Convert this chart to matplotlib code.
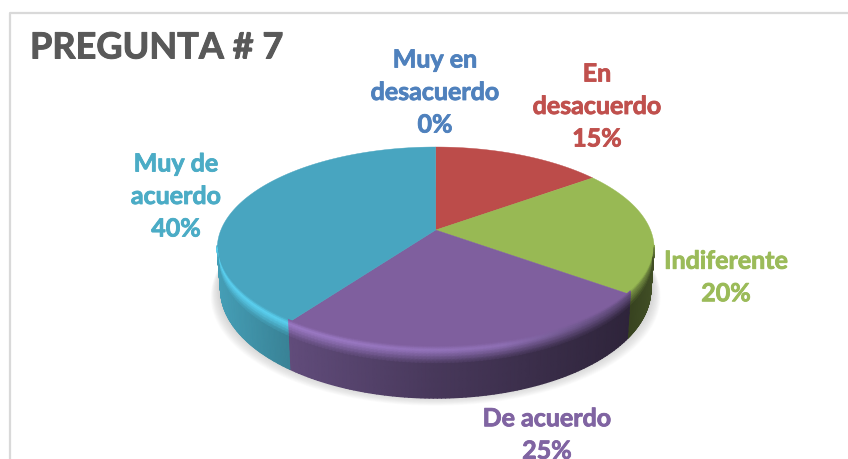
import matplotlib
matplotlib.use('Agg')
import matplotlib.pyplot as plt
import matplotlib.patheffects as pe
import numpy as np

title = 'PREGUNTA # 7'
labels = ['Muy en\ndesacuerdo', 'En\ndesacuerdo', 'Indiferente', 'De acuerdo', 'Muy de\nacuerdo']
values = [0, 15, 20, 25, 40]
colors = ['#4F81BD', '#C0504D', '#9BBB59', '#8064A2', '#4BACC6']
top_colors = ['#4F81BD', '#BC4C4A', '#98B954', '#7F5F9E', '#48A5C0']
label_x = [435, 597, 726, 547, 176]
label_y = [93.5, 107.5, 278.5, 436, 197.5]

# pie geometry in image pixels, perspective fitted on the slice corners
cx, cy = 435.7, 231
a, b, k = 214.8, 98.1, 0.182
depth = 39.5


def project(theta, r=1.0):
    # theta in radians, clockwise from the top
    u = r * np.sin(theta)
    v = r * np.cos(theta)
    w = 1 + k * v
    return cx + a * u / w, cy - b * v / w, w


fig = plt.figure(figsize=(8.48, 4.6), dpi=100)
ax = fig.add_axes([0, 0, 1, 1])
ax.set_xlim(0, 848)
ax.set_ylim(460, 0)
ax.axis('off')

# chart frame
ax.plot([10, 10, 848], [460, 14, 14], color='#D9D9D9', lw=1.6, zorder=1)

# soft shadow under the pie
circle = np.linspace(0, 2 * np.pi, 240)
for g in range(14, 0, -1):
    x, y, w = project(circle)
    x = cx + (x - cx) * (0.985 + g * 0.0032)
    y = y + depth / w + g * 0.75 - 3
    ax.fill(x, y, color='#808080', alpha=0.028, lw=0, zorder=2)

edges = np.cumsum([0] + values) / np.sum(values) * 2 * np.pi

# top faces
for i in range(len(values)):
    if values[i] == 0:
        continue
    t = np.linspace(edges[i], edges[i + 1], 120)
    x, y, w = project(t)
    ax.fill(np.r_[cx, x], np.r_[cy, y], color=top_colors[i], lw=0.3, ec=top_colors[i], zorder=3)

# side walls, only the part turned to the viewer
vis0, vis1 = np.radians(100.5), np.radians(259.5)
d_grid = np.array([-4, -2, 0, 2, 4, 7, 10, 14, 20, 30, 40, 48]) / 48.0
for i in range(len(values)):
    t0 = max(edges[i], vis0)
    t1 = min(edges[i + 1], vis1)
    if t1 <= t0:
        continue
    t = np.linspace(t0, t1, 100)
    x, y, w = project(t)
    s = (x - cx) / 218.5
    wall = np.interp(s, [-1, -0.68, 0, 0.9, 1], [0.92, 0.76, 0.56, 0.36, 0.42])
    glow = np.interp(s, [-1, -0.4, 0.3, 0.7, 1], [1.22, 1.2, 1.12, 0.85, 0.7])

    X = np.zeros((len(d_grid), len(t)))
    Y = np.zeros((len(d_grid), len(t)))
    C = np.zeros((len(d_grid), len(t), 3))
    base = np.array(matplotlib.colors.to_rgb(colors[i]))
    face = np.array(matplotlib.colors.to_rgb(top_colors[i]))
    for j, d in enumerate(d_grid):
        px = d * depth / w
        Y[j] = y + px
        X[j] = cx + (x - cx) * (1 - 0.015 * max(d, 0))
        # face colour, then the bevel highlight, then the shaded wall
        mix = np.clip(d * 48 / 4 + 1, 0, 1)
        fade = np.clip((d * 48 - 1) / 13, 0, 1)
        lit = (1 - fade)[..., None] * (glow[:, None] * base) + fade * (wall[:, None] * base)
        C[j] = (1 - mix) * face + mix * lit
    ax.pcolormesh(X, Y, np.clip(C, 0, 1), shading='gouraud', zorder=4)

# labels, Lato bold with a thin stroke to get the weight of the original
t = ax.text(30, 49, title, color='#595959', fontsize=26, fontweight='bold',
            family='Lato', ha='left', va='center')
t.set_path_effects([pe.withStroke(linewidth=0.7, foreground='#595959')])
for i in range(len(values)):
    txt = labels[i] + '\n' + str(values[i]) + '%'
    t = ax.text(label_x[i], label_y[i], txt, color=colors[i], fontsize=18, fontweight='bold',
                family='Lato', ha='center', va='center', linespacing=1.5, zorder=6)
    t.set_path_effects([pe.withStroke(linewidth=0.6, foreground=colors[i])])

fig.savefig('out.png', dpi=100)
